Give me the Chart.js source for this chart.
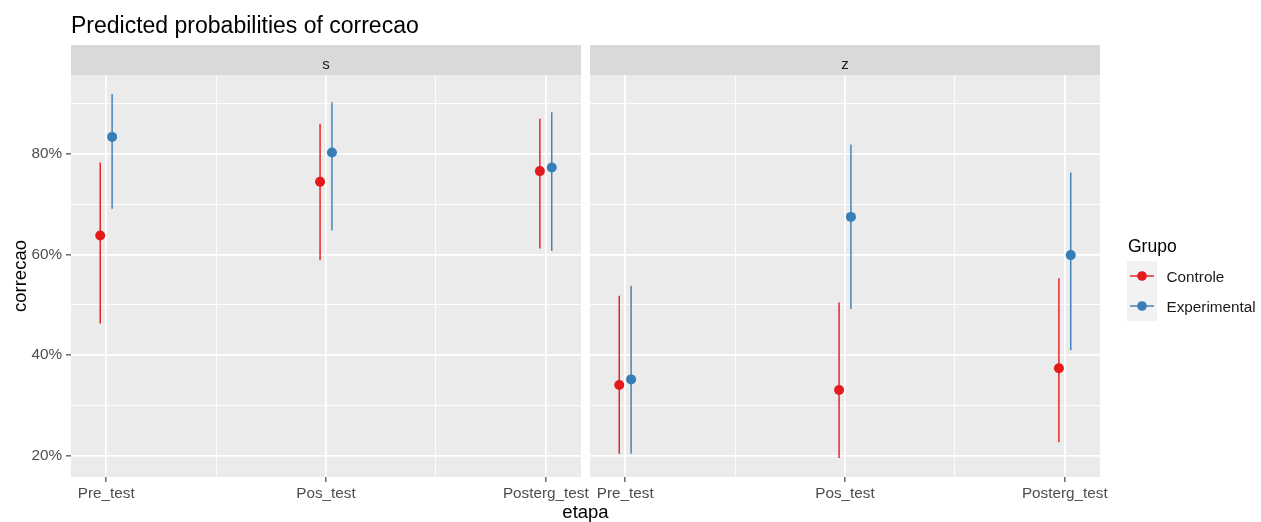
<!DOCTYPE html>
<html>
<head>
<meta charset="utf-8">
<script src="https://cdn.jsdelivr.net/npm/chart.js@4.4.1/dist/chart.umd.min.js"></script>
<style>
  html, body { margin: 0; padding: 0; background: #ffffff; }
  #wrap { position: relative; width: 1261px; height: 522px; overflow: hidden;
          font-family: "Liberation Sans", Arial, sans-serif; }
  canvas { position: absolute; top: 0; }
  #panelS { left: 0; }
  #panelZ { left: 584px; }
  .txt { position: absolute; white-space: nowrap; line-height: 1; color: #000; }
  #title { left: 71px; top: 14px; font-size: 23px; }
  #xtitle { left: 0; width: 1171px; text-align: center; top: 503px; font-size: 18.5px; }
</style>
</head>
<body>
<div id="wrap">
  <canvas id="panelS" width="593" height="522"></canvas>
  <canvas id="panelZ" width="677" height="522"></canvas>
  <div class="txt" id="title">Predicted probabilities of correcao</div>
  <div class="txt" id="xtitle">etapa</div>
</div>
<script>
// Stages on the x axis and the two facets
const etapas = ['Pre_test', 'Pos_test', 'Posterg_test'];
const facets = ['s', 'z'];
const grupos = ['Controle', 'Experimental'];
const yMajorTicks = [20, 40, 60, 80];
const yMinorTicks = [30, 50, 70, 90];

// Facet "s": predicted probability (%) with confidence interval
const sControle          = [63.8, 74.5, 76.6];
const sControleLow       = [46.3, 58.9, 61.2];
const sControleHigh      = [78.3, 86.0, 87.0];
const sExperimental      = [83.4, 80.3, 77.3];
const sExperimentalLow   = [69.1, 64.8, 60.7];
const sExperimentalHigh  = [91.9, 90.3, 88.3];

// Facet "z"
const zControle          = [34.1, 33.1, 37.4];
const zControleLow       = [20.4, 19.6, 22.7];
const zControleHigh      = [51.8, 50.5, 55.3];
const zExperimental      = [35.2, 67.5, 59.9];
const zExperimentalLow   = [20.4, 49.2, 41.0];
const zExperimentalHigh  = [53.8, 81.9, 76.3];

const COLORS = ['#E41A1C', '#377EB8'];
const DODGE = 0.027;          // horizontal dodge between groups (category units)
const X_PAD = 0.16;           // expansion of the discrete axis
const Y_MIN = 15.8, Y_MAX = 95.7;
const FONT = '"Liberation Sans", Arial, sans-serif';

Chart.defaults.font.family = FONT;
Chart.defaults.animation = false;

function buildDatasets(series) {
  return series.map((s, g) => ({
    label: grupos[g],
    data: s.values.map((v, i) => ({ x: i + 1 + (g === 0 ? -DODGE : DODGE), y: v })),
    low: s.low,
    high: s.high,
    backgroundColor: COLORS[g],
    borderColor: COLORS[g],
    pointRadius: 5,
    pointHoverRadius: 5,
    pointBorderWidth: 0,
    showLine: false
  }));
}

// grey panel background
const panelBg = {
  id: 'panelBg',
  beforeDraw(chart) {
    const { ctx, chartArea: a } = chart;
    ctx.save();
    ctx.fillStyle = '#EBEBEB';
    ctx.fillRect(a.left, a.top, a.right - a.left, a.bottom - a.top);
    ctx.restore();
  }
};

// facet strip above each panel
const facetStrip = {
  id: 'facetStrip',
  afterDraw(chart, args, opts) {
    const { ctx, chartArea: a } = chart;
    ctx.save();
    ctx.fillStyle = '#D9D9D9';
    ctx.fillRect(a.left, a.top - 30, a.right - a.left, 30);
    ctx.fillStyle = '#1A1A1A';
    ctx.font = '15px ' + FONT;
    ctx.textAlign = 'center';
    ctx.textBaseline = 'alphabetic';
    ctx.fillText(opts.label, (a.left + a.right) / 2, a.top - 6);
    ctx.restore();
  }
};

// vertical confidence interval lines, drawn under the points
const errorBars = {
  id: 'errorBars',
  beforeDatasetsDraw(chart) {
    const { ctx, chartArea: a, scales: { x, y } } = chart;
    ctx.save();
    ctx.beginPath();
    ctx.rect(a.left, a.top, a.right - a.left, a.bottom - a.top);
    ctx.clip();
    ctx.lineWidth = 1.4;
    chart.data.datasets.forEach(ds => {
      ctx.strokeStyle = ds.borderColor;
      ds.data.forEach((p, i) => {
        const px = x.getPixelForValue(p.x);
        ctx.beginPath();
        ctx.moveTo(px, y.getPixelForValue(ds.low[i]));
        ctx.lineTo(px, y.getPixelForValue(ds.high[i]));
        ctx.stroke();
      });
    });
    ctx.restore();
  }
};

// legend on the right of the last panel
const groupLegend = {
  id: 'groupLegend',
  afterDraw(chart, args, opts) {
    if (!opts.show) return;
    const { ctx, chartArea: a } = chart;
    const left = a.right + 27;
    ctx.save();
    ctx.fillStyle = '#000';
    ctx.font = '17.5px ' + FONT;
    ctx.textBaseline = 'alphabetic';
    ctx.fillText('Grupo', left + 1, 251.5);
    ctx.fillStyle = '#F2F2F2';
    ctx.fillRect(left, 261, 30, 60);
    chart.data.datasets.forEach((ds, g) => {
      const cy = 276 + g * 30;
      ctx.strokeStyle = ds.borderColor;
      ctx.lineWidth = 1.4;
      ctx.beginPath();
      ctx.moveTo(left + 3, cy);
      ctx.lineTo(left + 27, cy);
      ctx.stroke();
      ctx.fillStyle = ds.backgroundColor;
      ctx.beginPath();
      ctx.arc(left + 15, cy, 4.8, 0, Math.PI * 2);
      ctx.fill();
      ctx.fillStyle = '#1A1A1A';
      ctx.font = '15.3px ' + FONT;
      ctx.fillText(ds.label, left + 39.5, cy + 5.8);
    });
    ctx.restore();
  }
};

function gridWidth(ctx) {
  const v = ctx.tick ? ctx.tick.value : 0;
  return Number.isInteger(v) && v % 20 === 0 ? 1.7 : 0.9;
}
function xGridWidth(ctx) {
  const v = ctx.tick ? ctx.tick.value : 0;
  return Number.isInteger(v) ? 1.7 : 0.9;
}

function makePanel(canvasId, facetIdx, series, withYAxis, withLegend, padding) {
  return new Chart(document.getElementById(canvasId), {
    type: 'scatter',
    data: { datasets: buildDatasets(series) },
    plugins: [panelBg, facetStrip, errorBars, groupLegend],
    options: {
      responsive: false,
      animation: false,
      layout: { padding },
      plugins: {
        legend: { display: false },
        tooltip: { enabled: false },
        facetStrip: { label: facets[facetIdx] },
        groupLegend: { show: withLegend }
      },
      scales: {
        x: {
          type: 'linear',
          min: 1 - X_PAD,
          max: etapas.length + X_PAD,
          afterBuildTicks(scale) {
            const t = [];
            for (let v = 1; v <= etapas.length; v += 0.5) t.push({ value: v });
            scale.ticks = t;
          },
          afterFit(scale) { scale.height = 45; },
          border: { display: false },
          grid: {
            color: '#FFFFFF',
            lineWidth: xGridWidth,
            tickLength: 5,
            tickWidth: 1.1,
            tickColor: c => (c.tick && Number.isInteger(c.tick.value)) ? '#333333' : 'rgba(0,0,0,0)'
          },
          ticks: {
            autoSkip: false,
            maxRotation: 0,
            minRotation: 0,
            padding: 3,
            color: '#4D4D4D',
            font: { size: 15.3 },
            callback: v => Number.isInteger(v) ? etapas[v - 1] : ''
          }
        },
        y: {
          type: 'linear',
          min: Y_MIN,
          max: Y_MAX,
          afterBuildTicks(scale) {
            scale.ticks = yMajorTicks.concat(yMinorTicks).sort((a, b) => a - b).map(v => ({ value: v }));
          },
          afterFit(scale) { scale.width = withYAxis ? 71 : 0; },
          border: { display: false },
          grid: {
            color: '#FFFFFF',
            lineWidth: gridWidth,
            drawTicks: withYAxis,
            tickLength: 5,
            tickWidth: 1.1,
            tickColor: c => (c.tick && yMajorTicks.includes(c.tick.value)) ? '#333333' : 'rgba(0,0,0,0)'
          },
          ticks: {
            display: withYAxis,
            padding: 4,
            color: '#4D4D4D',
            font: { size: 15.3 },
            callback: v => yMajorTicks.includes(v) ? v + '%' : ''
          },
          title: {
            display: withYAxis,
            text: 'correcao',
            color: '#000000',
            font: { size: 18.5 },
            padding: { top: 10, bottom: 0 }
          }
        }
      }
    }
  });
}

makePanel('panelS', 0, [
  { values: sControle, low: sControleLow, high: sControleHigh },
  { values: sExperimental, low: sExperimentalLow, high: sExperimentalHigh }
], true, false, { left: 0, top: 75, right: 12, bottom: 0 });

makePanel('panelZ', 1, [
  { values: zControle, low: zControleLow, high: zControleHigh },
  { values: zExperimental, low: zExperimentalLow, high: zExperimentalHigh }
], false, true, { left: 6, top: 75, right: 161, bottom: 0 });
</script>
</body>
</html>
